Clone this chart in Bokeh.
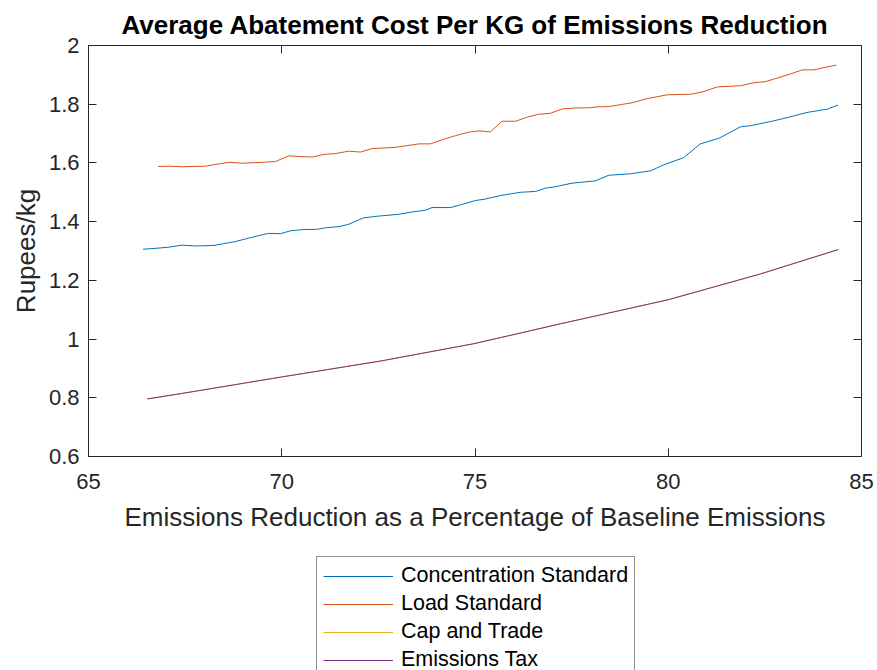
from bokeh.plotting import figure
from bokeh.layouts import column
from bokeh.models import (Range1d, LinearAxis, FixedTicker, CustomJSTickFormatter,
                          CustomLabelingPolicy, Legend, LegendItem, Title)
from bokeh.embed import file_html
from bokeh.resources import INLINE

# ---- data ----
conc_x = [66.41, 66.73, 67.08, 67.42, 67.77, 68.24, 68.50, 68.80, 69.06, 69.36, 69.66, 69.97,
          70.23, 70.57, 70.92, 71.13, 71.48, 71.73, 72.12, 72.51, 73.03, 73.37, 73.72, 73.89,
          74.37, 74.67, 75.01, 75.27, 75.66, 76.18, 76.57, 76.82, 77.08, 77.51, 78.12, 78.46,
          79.02, 79.54, 79.89, 80.40, 80.83, 81.31, 81.87, 82.13, 82.65, 83.16, 83.59, 84.11, 84.39]
conc_y = [1.306, 1.309, 1.313, 1.320, 1.317, 1.319, 1.325, 1.332, 1.341, 1.351, 1.360, 1.359,
          1.369, 1.373, 1.374, 1.379, 1.383, 1.391, 1.413, 1.419, 1.425, 1.433, 1.439, 1.448,
          1.448, 1.459, 1.472, 1.477, 1.489, 1.500, 1.503, 1.514, 1.519, 1.531, 1.539, 1.558,
          1.563, 1.573, 1.594, 1.618, 1.665, 1.684, 1.723, 1.727, 1.741, 1.757, 1.772, 1.783, 1.797]

load_x = [66.80, 67.08, 67.42, 68.03, 68.29, 68.63, 68.98, 69.49, 69.84, 70.18, 70.44, 70.79,
          71.09, 71.39, 71.73, 72.04, 72.34, 72.94, 73.20, 73.55, 73.85, 74.15, 74.50, 74.84,
          75.10, 75.40, 75.70, 76.05, 76.35, 76.65, 76.95, 77.26, 77.60, 77.99, 78.16, 78.46,
          79.07, 79.45, 79.97, 80.58, 80.92, 81.27, 81.87, 82.21, 82.52, 82.82, 83.16, 83.47,
          83.77, 84.07, 84.35]
load_y = [1.588, 1.589, 1.587, 1.589, 1.595, 1.602, 1.599, 1.602, 1.605, 1.624, 1.622, 1.620,
          1.629, 1.632, 1.640, 1.637, 1.649, 1.653, 1.658, 1.665, 1.665, 1.679, 1.693, 1.705,
          1.709, 1.706, 1.742, 1.742, 1.756, 1.766, 1.769, 1.784, 1.787, 1.788, 1.791, 1.792,
          1.805, 1.819, 1.832, 1.834, 1.843, 1.859, 1.863, 1.873, 1.877, 1.889, 1.903, 1.917,
          1.917, 1.926, 1.933]

cap_x = [66.52, 67.38, 70.00, 72.55, 75.00, 77.21, 80.00, 82.39, 84.40]
cap_y = [0.796, 0.814, 0.871, 0.925, 0.985, 1.052, 1.134, 1.222, 1.305]

tax_x = [66.52, 67.38, 70.00, 72.55, 75.00, 77.21, 80.00, 82.39, 84.40]
tax_y = [0.796, 0.814, 0.871, 0.925, 0.985, 1.052, 1.134, 1.222, 1.305]

series_names = ["Concentration Standard", "Load Standard", "Cap and Trade", "Emissions Tax"]
x_ticks = [65, 70, 75, 80, 85]
y_ticks = [0.6, 0.8, 1.0, 1.2, 1.4, 1.6, 1.8, 2.0]

# ---- styling ----
FONT = "Liberation Sans"
AX = "#262626"
colors = ["#0072BD", "#D95319", "#EDB120", "#7E2F8E"]
LW = 1.0

p = figure(width=877, height=548, output_backend="svg", toolbar_location=None,
           x_range=Range1d(65, 85), y_range=Range1d(0.6, 2.0),
           min_border_left=88, min_border_right=16, min_border_top=45, min_border_bottom=92,
           background_fill_color="white", border_fill_color="white")
p.grid.visible = False
p.outline_line_color = None

p.title = Title(text="Average Abatement Cost Per KG of Emissions Reduction",
                align="center", text_font=FONT, text_font_size="26px",
                text_font_style="bold", text_color="black", standoff=11)

fmt = CustomJSTickFormatter(code="return String(Math.round(tick*10)/10);")
blank_fmt = CustomJSTickFormatter(code="return '';")
no_labels = CustomLabelingPolicy(
    code="for (let i = 0; i < indices.size; i++) { indices.unset(i); } return indices;")

def style_axis(ax, ticks, show_labels):
    ax.ticker = FixedTicker(ticks=ticks)
    ax.axis_line_color = AX
    ax.axis_line_width = 1
    ax.major_tick_line_color = AX
    ax.major_tick_in = 8
    ax.major_tick_out = 0
    ax.minor_tick_line_color = None
    ax.major_label_text_font = FONT
    ax.major_label_text_color = AX
    ax.major_label_text_font_size = "22px"
    if show_labels:
        ax.formatter = fmt
    else:
        ax.formatter = blank_fmt
        ax.major_label_policy = no_labels
        ax.major_label_standoff = 0

style_axis(p.xaxis[0], x_ticks, True)
style_axis(p.yaxis[0], y_ticks, True)
p.xaxis[0].major_label_standoff = 17
p.yaxis[0].major_label_standoff = 9
p.xaxis[0].axis_label = "Emissions Reduction as a Percentage of Baseline Emissions"
p.yaxis[0].axis_label = "Rupees/kg"
for ax in (p.xaxis[0], p.yaxis[0]):
    ax.axis_label_text_font = FONT
    ax.axis_label_text_font_size = "26px"
    ax.axis_label_text_font_style = "normal"
    ax.axis_label_text_color = AX
p.xaxis[0].axis_label_standoff = 10
p.yaxis[0].axis_label_standoff = 5

top_ax = LinearAxis()
right_ax = LinearAxis()
style_axis(top_ax, x_ticks, False)
style_axis(right_ax, y_ticks, False)
p.add_layout(top_ax, "above")
p.add_layout(right_ax, "right")

xs = [conc_x, load_x, cap_x, tax_x]
ys = [conc_y, load_y, cap_y, tax_y]
for sx, sy, c in zip(xs, ys, colors):
    p.line(sx, sy, line_color=c, line_width=LW)

# ---- legend panel below the axes ----
lf = figure(width=877, height=122, output_backend="svg", toolbar_location=None,
            x_range=Range1d(0, 1), y_range=Range1d(0, 1),
            x_axis_location=None, y_axis_location=None,
            min_border_left=0, min_border_right=0, min_border_top=0, min_border_bottom=0,
            background_fill_color="white", border_fill_color="white")
lf.grid.visible = False
lf.outline_line_color = None
lrs = [lf.line(sx, sy, line_color=c, line_width=1.2) for sx, sy, c in zip(xs, ys, colors)]

legend = Legend(items=[LegendItem(label=n, renderers=[r]) for n, r in zip(series_names, lrs)],
                location=(228, -9), orientation="vertical",
                glyph_width=70, glyph_height=20, label_height=20, spacing=3,
                label_standoff=8, padding=6, margin=0,
                label_text_font=FONT, label_text_font_size="21.5px", label_text_color="black",
                border_line_color=AX, border_line_width=1,
                background_fill_color="white", background_fill_alpha=1.0)
lf.add_layout(legend, "center")

layout = column(p, lf, spacing=0)
open("out.html", "w").write(file_html(layout, INLINE))
